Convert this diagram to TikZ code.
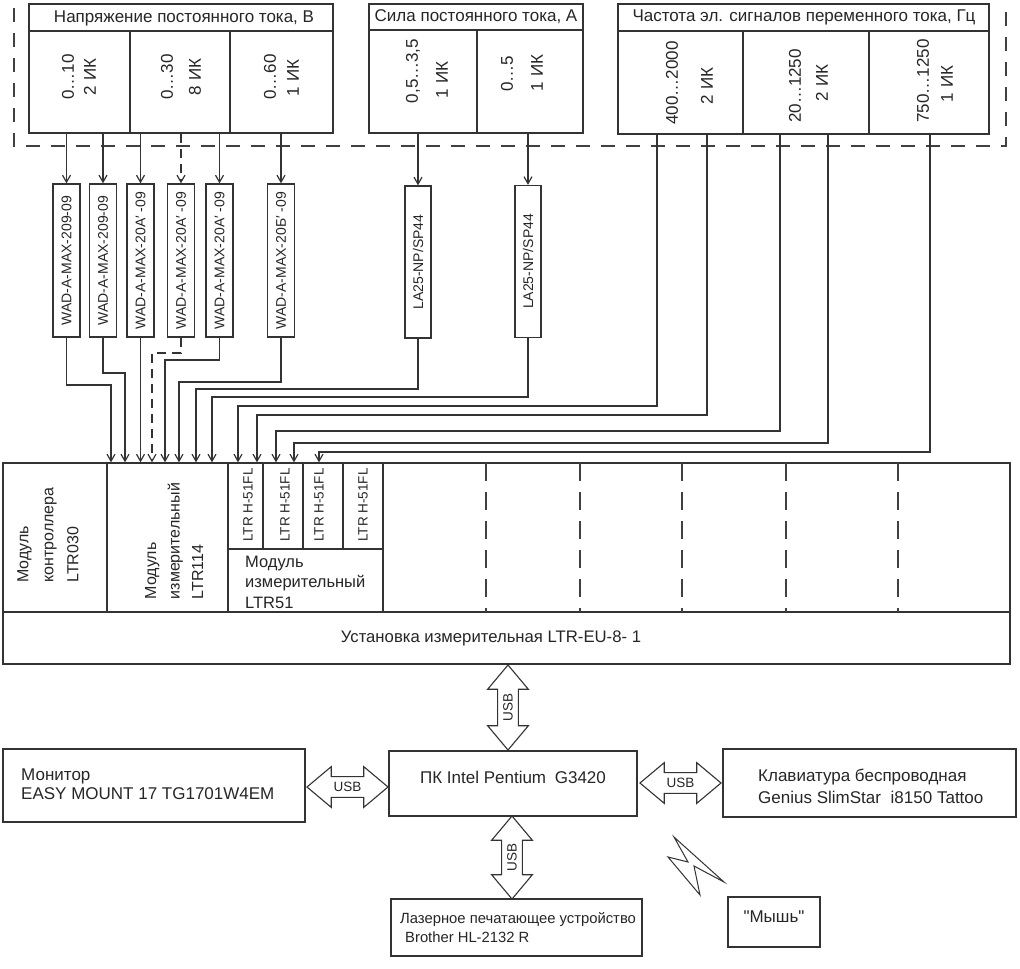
\documentclass[tikz,border=0pt]{standalone}
\usepackage{fontspec}
\usepackage{graphicx}
\setmainfont{Liberation Sans}
\newfontfamily\qfont[Ligatures=ResetAll]{Liberation Sans}
\usetikzlibrary{arrows.meta,shapes.arrows,fit}
\begin{document}
\begin{tikzpicture}[x=1pt,y=-1pt,
  every node/.style={inner sep=0pt, text=black!85},
  ln/.style={draw=black!80, line width=1.2pt},
  frm/.style={draw=black!75, line width=1.2pt, dash pattern=on 14pt off 11pt},
  mdsh/.style={draw=black!75, line width=1.2pt, dash pattern=on 18pt off 11pt},
  dsh/.style={dash pattern=on 9pt off 6pt},
  arr/.style={ln, -{Straight Barb[length=7pt,width=8pt]}},
  box/.style={draw=black!80, line width=1.3pt, inner sep=0pt},
  hdr/.style={font=\fontsize{17}{20}\selectfont},
  rng/.style={font=\fontsize{17}{20}\selectfont, rotate=90},
  sens/.style={box, minimum width=27pt, minimum height=153pt, font=\fontsize{14}{17}\selectfont},
  la/.style={box, minimum width=26pt, minimum height=152pt, font=\fontsize{14}{17}\selectfont},
  fl/.style={font=\fontsize{13.5}{16}\selectfont, rotate=90},
  txt/.style={font=\fontsize{17}{20}\selectfont},
  usb/.style={double arrow, draw=black!80, line width=1.1pt, double arrow head extend=10pt,
    double arrow tip angle=80, inner xsep=2pt, inner ysep=5pt, font=\fontsize{13.5}{16}\selectfont}
]
\useasboundingbox (0,0) rectangle (1020,969);
\fill[white] (0,0) rectangle (1020,969);

% dashed frame
\draw[frm] (14,8) -- (14,146) -- (1006,146) -- (1006,5);

% ---- top boxes
\node[box, fit={(29,4) (333,133)}] (V) {};
\draw[ln] (29,31) -- (333,31);
\draw[ln] (130,31) -- (130,133);
\draw[ln] (230,31) -- (230,133);
\node[hdr] (Vh) at (184,18) {Напряжение постоянного тока, В};
\node[rng] (v1a) at (68,77) {0…10};
\node[rng] (v1b) at (90,77) {2 ИК};
\node[rng] (v2a) at (167,77) {0…30};
\node[rng] (v2b) at (195,77) {8 ИК};
\node[rng] (v3a) at (270,77) {0…60};
\node[rng] (v3b) at (293,78) {1 ИК};

\node[box, fit={(369,4) (583,133)}] (C) {};
\draw[ln] (369,30) -- (583,30);
\draw[ln] (477,30) -- (477,133);
\node[hdr] (Ch) at (476,17) {Сила постоянного тока, А};
\node[rng] (c1a) at (413,71) {0,5…3,5};
\node[rng] (c1b) at (442,80) {1 ИК};
\node[rng] (c2a) at (507,74) {0…5};
\node[rng] (c2b) at (537,73) {1 ИК};

\node[box, fit={(618,4) (989,134)}] (F) {};
\draw[ln] (618,31) -- (989,31);
\draw[ln] (743,31) -- (743,134);
\draw[ln] (869,31) -- (869,134);
\node[hdr] (Fh) at (804,17) {Частота эл. сигналов переменного тока, Гц};
\node[rng] (f1a) at (672,83) {400…2000};
\node[rng] (f1b) at (707,86) {2 ИК};
\node[rng] (f2a) at (795,86) {20…1250};
\node[rng] (f2b) at (822,83) {2 ИК};
\node[rng] (f3a) at (923,81) {750…1250};
\node[rng] (f3b) at (947,84) {1 ИК};

% ---- sensors
\node[sens] (w1) at (66.5,260.5) {\rotatebox{90}{WAD-A-MAX-209-09}};
\node[sens] (w2) at (103,260.5) {\rotatebox{90}{WAD-A-MAX-209-09}};
\node[sens] (w3) at (140.5,260.5) {\rotatebox{90}{WAD-A-MAX-20A′ -09}};
\node[sens] (w4) at (181,260.5) {\rotatebox{90}{WAD-A-MAX-20A′ -09}};
\node[sens] (w5) at (219.5,260.5) {\rotatebox{90}{WAD-A-MAX-20A′ -09}};
\node[sens] (w6) at (281,260.5) {\rotatebox{90}{WAD-A-MAX-20Б′ -09}};
\node[la] (la1) at (418,262) {\rotatebox{90}{LA25-NP/SP44}};
\node[la] (la2) at (528,261.5) {\rotatebox{90}{LA25-NP/SP44}};

\draw[arr] (w1.north |- V.south) -- (w1.north);
\draw[arr] (w2.north |- V.south) -- (w2.north);
\draw[arr] (w3.north |- V.south) -- (w3.north);
\draw[arr, dsh] (w4.north |- V.south) -- (w4.north);
\draw[arr] (w5.north |- V.south) -- (w5.north);
\draw[arr] (w6.north |- V.south) -- (w6.north);
\draw[arr] (la1.north |- C.south) -- (la1.north);
\draw[arr] (la2.north |- C.south) -- (la2.north);

% ---- measurement unit
\node[box, fit={(3,463) (1010,664)}] (M) {};
\draw[ln] (3,612) -- (1010,612);
\draw[ln] (107,463) -- (107,612);
\draw[ln] (228,463) -- (228,612);
\draw[ln] (383,463) -- (383,612);
\draw[ln] (228,549) -- (383,549);
\draw[ln] (263,463) -- (263,549);
\draw[ln] (303,463) -- (303,549);
\draw[ln] (343,463) -- (343,549);
\foreach \xx in {486,580,682,786,898} \draw[mdsh] (\xx,463) -- (\xx,612);

\node[rotate=90, align=left, font=\fontsize{16}{25}\selectfont] (t030) at (48,535) {Модуль\\контроллера\\LTR030};
\node[rotate=90, align=left, font=\fontsize{16}{23.5}\selectfont] (t114) at (174,541) {Модуль\\измерительный\\LTR114};
\node[fl] (h1) at (248,505) {LTR H-51FL};
\node[fl] (h2) at (285,505) {LTR H-51FL};
\node[fl] (h3) at (319,505) {LTR H-51FL};
\node[fl] (h4) at (363,505) {LTR H-51FL};
\node[anchor=base west, font=\fontsize{16.5}{20}\selectfont] (t51a) at (245,567) {Модуль};
\node[anchor=base west, font=\fontsize{16.5}{20}\selectfont] (t51b) at (245,587) {измерительный};
\node[anchor=base west, font=\fontsize{16.5}{20}\selectfont] (t51c) at (245,608) {LTR51};
\node[font=\fontsize{16.7}{20}\selectfont] (teu) at (491,638) {Установка измерительная LTR-EU-8- 1};

% ---- connectors to the unit
\draw[arr] (w1.south) |- (111,385) -- (111,0 |- M.north);
\draw[arr] (w2.south) |- (125,373) -- (125,0 |- M.north);
\draw[arr] (w3.south) -- (w3.south |- M.north);
\draw[arr, dsh] (w4.south) |- (152,353) -- (152,0 |- M.north);
\draw[arr] (w5.south) |- (165,360) -- (165,0 |- M.north);
\draw[arr] (w6.south) |- (179,382) -- (179,0 |- M.north);
\draw[arr] (la1.south) |- (196,389) -- (196,0 |- M.north);
\draw[arr] (la2.south) |- (212,397) -- (212,0 |- M.north);
\draw[arr] (657,0 |- F.south) |- (238,406) -- (238,0 |- M.north);
\draw[arr] (707,0 |- F.south) |- (257,415) -- (257,0 |- M.north);
\draw[arr] (780,0 |- F.south) |- (276,431) -- (276,0 |- M.north);
\draw[arr] (828,0 |- F.south) |- (294,443) -- (294,0 |- M.north);
\draw[arr] (930,0 |- F.south) |- (319,452) -- (319,0 |- M.north);

% ---- computer and peripherals
\node[box, fit={(3,749) (305,822)}] (mon) {};
\node[anchor=base west, txt] (mon1) at (21,780) {Монитор};
\node[anchor=base west, txt] (mon2) at (21,799) {EASY MOUNT 17 TG1701W4EM};

\node[box, fit={(389,751) (637,816)}, txt] (pc) {ПК Intel Pentium\hspace{4pt} G3420};

\node[box, fit={(723,749) (1016,817)}] (kb) {};
\node[anchor=base west, txt] (kb1) at (758,781) {Клавиатура беспроводная};
\node[anchor=base west, txt] (kb2) at (758,803) {Genius SlimStar\hspace{5pt} i8150 Tattoo};

\node[box, fit={(391,899) (642,956)}] (pr) {};
\node[anchor=base west, font=\fontsize{14.8}{18}\selectfont] (pr1) at (400,923) {Лазерное печатающее устройство};
\node[anchor=base west, font=\fontsize{14.8}{18}\selectfont] (pr2) at (405,942) {Brother HL-2132 R};

\node[box, fit={(728,897) (820,947)}, txt] (ms) {\qfont "Мышь"};

\node[usb, minimum height=85pt, rotate=90] (u1) at (508,707.5) {USB};
\node[usb, minimum height=81pt] (u2) at (347.5,787) {USB};
\node[usb, minimum height=81pt] (u3) at (680.5,783) {USB};
\node[usb, minimum height=83pt, rotate=90] (u4) at (512,857.5) {USB};

% lightning
\draw[draw=black!80, line width=1pt, line join=miter] (674,837) -- (724,882) -- (694,866) -- (700,895) -- (668,857) -- (688,862) -- cycle;
\end{tikzpicture}
\end{document}
